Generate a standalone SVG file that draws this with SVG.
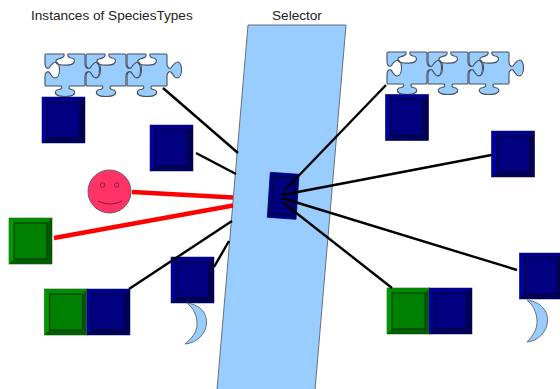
<svg xmlns="http://www.w3.org/2000/svg" xmlns:xlink="http://www.w3.org/1999/xlink" width="560" height="389" viewBox="0 0 560 389">
<style>
text{font-family:"Liberation Sans",Arial,sans-serif;font-size:13.6px;fill:#222}
.band,.moon{fill:#99ccff;stroke:#66707c;stroke-width:1}
.pz{fill:#99ccff;stroke:#47505c;stroke-width:1.1;stroke-linejoin:round}
.b{stroke:#000;stroke-width:2.4;fill:none}
.r{stroke:#f00;stroke-width:4.4;fill:none}
.face{fill:#ff3366;stroke:#6a5a66;stroke-width:1}
.fd{fill:none;stroke:#8a1a4a;stroke-width:1}
.edge{stroke:#000020;stroke-width:1;fill:none}
</style>
<defs>
<path id="piece" class="pz" d="M1,0H19C20,3 17,4 13,5C10,6 10,10 14,10.5C18,11.5 26,11.5 28,9.5C31,7 29,4 26,4C24,3.5 22,2 23,0H39Q40,0 40,1V10C40,13 42,15 44,14C46,11 49,8 51,8C54,9 54.5,13 54.5,16C54.5,20 53,24 50,24C47,24 46,20 44,18C42,17 40,19 40,22V31Q40,32 39,32H25C23,33 24,35 26,35.5C30,36 31,39 28,41C25,43 15,43 12,41C9,39 10,36 14,35.5C17,35 17.5,33 16,32H1Q0,32 0,31V22C0,19 2,17 4,18C6,20 7,24 10,24C13,24 14.5,20 14.5,16C14.5,13 14,9 11,8C9,8 6,11 4,14C2,15 0,13 0,10V1Q0,0 1,0Z"/>
<g id="puzzle"><use href="#piece"/><use href="#piece" x="41"/><use href="#piece" x="82"/></g>
<g id="bluebox">
<rect width="43" height="46" fill="#000080" stroke="#555560" stroke-width=".7"/>
<path d="M0,0H43L38,5H5Z" fill="#000090"/>
<path d="M0,0L5,5V41L0,46Z" fill="#0000a0"/>
<path d="M43,0V46L38,41V5Z" fill="#000058"/>
<path d="M0,46H43L38,41H5Z" fill="#000060"/>
<rect x="5" y="5" width="33" height="36" class="edge"/>
</g>
<g id="greenbox">
<rect width="43" height="46" fill="#008000" stroke="#556055" stroke-width=".7"/>
<path d="M0,0H43L38,5H5Z" fill="#008c00"/>
<path d="M0,0L5,5V41L0,46Z" fill="#009a00"/>
<path d="M43,0V46L38,41V5Z" fill="#005800"/>
<path d="M0,46H43L38,41H5Z" fill="#006000"/>
<rect x="5" y="5" width="33" height="36" stroke="#003000" stroke-width="1" fill="none"/>
</g>
</defs>
<g id="labels">
<text x="31" y="19.500">Instances of SpeciesTypes</text>
<text x="272" y="19.500">Selector</text>
</g>
<g id="selector-band"><polygon class="band" points="248,25 346,25 315,390 217,390"/></g>
<g id="left-puzzle"><use href="#puzzle" x="45" y="54"/></g>
<g id="left-box-1"><use href="#bluebox" x="42" y="97"/></g>
<g id="left-box-2"><use href="#bluebox" x="150" y="125"/></g>
<g id="smiley">
<circle class="face" cx="109.500" cy="191.500" r="21.500"/>
<circle class="fd" cx="102.700" cy="185" r="2.300"/>
<circle class="fd" cx="116.700" cy="185" r="2.300"/>
<path class="fd" d="M98,201Q110,207 122,201"/>
</g>
<g id="left-green"><use href="#greenbox" x="9" y="218"/></g>
<g id="left-pair"><use href="#greenbox" x="44.500" y="289"/><use href="#bluebox" x="87" y="289"/></g>
<g id="left-moon"><use href="#bluebox" x="171" y="257"/><path class="moon" d="M187,303C202,305 207,315 206.500,323C206,334 197,343 185,344C195,336 197.500,329 197,322C196.500,314 193,308 187,303Z"/></g>
<g id="right-puzzle"><use href="#puzzle" x="387" y="52"/></g>
<g id="right-box-1"><use href="#bluebox" x="385.500" y="94.500"/></g>
<g id="right-box-2"><use href="#bluebox" x="491.500" y="131"/></g>
<g id="right-moon"><use href="#bluebox" x="519.500" y="253"/><path class="moon" d="M527,300C542,302 548,312 547.500,321C547,332 538,341 527,342C535,334 537.500,327 537,320C536.500,312 533,305 527,300Z"/></g>
<g id="right-pair"><use href="#greenbox" x="387" y="288"/><use href="#bluebox" x="429" y="288"/></g>
<g id="selector">
<polygon points="270.300,172.300 299,174.300 296,219.300 267.300,217.300" fill="#000080" stroke="#000070" stroke-width=".8"/>
<polygon points="274,176.500 295,178 292.500,215 271,213.500" class="edge"/>
</g>
<g id="connectors">
<path class="b" d="M163,88L238,153"/>
<path class="b" d="M196,153L236,174"/>
<path class="r" d="M132,192L233,197.500"/>
<path class="r" d="M54,238L233,205.500"/>
<path class="b" d="M129,289L232,221"/>
<path class="b" d="M214,267L229,241"/>
<path class="b" d="M284,191L386,85"/>
<path class="b" d="M282,195L491.500,155"/>
<path class="b" d="M282,198L517,270"/>
<path class="b" d="M282,201.700L392,288"/>
</g>
</svg>
